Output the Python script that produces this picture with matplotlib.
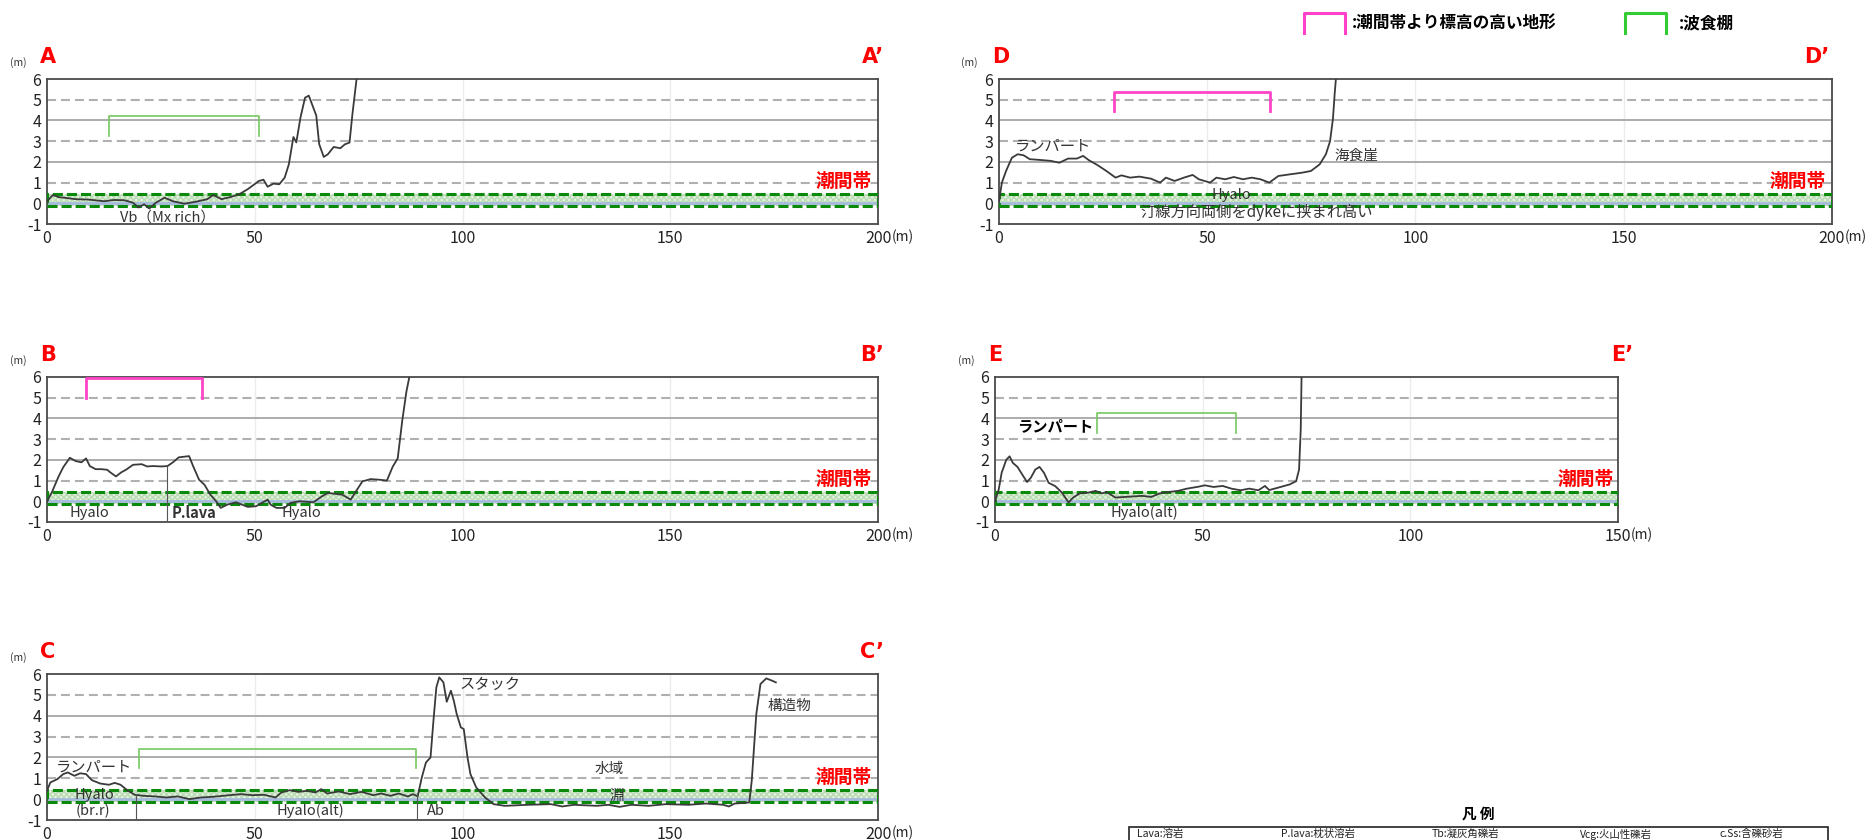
import matplotlib
matplotlib.use("Agg")
import matplotlib.pyplot as plt
from matplotlib.patches import Rectangle
from matplotlib.lines import Line2D

plt.rcParams['font.family'] = ['Noto Sans CJK JP', 'DejaVu Sans']
plt.rcParams['axes.unicode_minus'] = False

# ---- profiles: distance (m) / elevation (m)
A_x = [0, 1.4, 2.8, 5, 6.9, 10, 13.8, 16, 18.6, 20.7, 22, 23.4, 24.6, 26.2, 28.3, 30.3, 33.1, 35.9,
       38.6, 40, 42, 44.1, 46.2, 48.3, 51, 52.1, 53.1, 54.5, 55.9, 57.2, 58.2, 59.3, 60, 61, 62.1,
       63, 64.8, 65.5, 66.6, 67.6, 69, 70.6, 71.7, 72.8, 73.5, 74.5, 75.2]
A_y = [0.1, 0.4, 0.3, 0.25, 0.2, 0.18, 0.1, 0.16, 0.15, 0.03, -0.2, -0.05, -0.25, 0.03, 0.27, 0.1,
       -0.02, 0.08, 0.2, 0.4, 0.2, 0.3, 0.43, 0.68, 1.08, 1.14, 0.8, 0.95, 0.92, 1.24, 1.88, 3.2,
       2.94, 4.14, 5.1, 5.2, 4.24, 2.86, 2.24, 2.37, 2.72, 2.66, 2.85, 2.93, 4.3, 6.0, 7.5]

B_x = [0, 1.1, 2.8, 3.9, 5.5, 6.9, 8.3, 9.4, 10.3, 11.7, 13.1, 14.5, 15.2, 16.6, 17.9, 19, 20.7,
       22.8, 24.1, 25.5, 27.6, 29, 30.3, 31.7, 34.2, 35.2, 36.6, 37.9, 39.3, 40.7, 41.8, 43.4, 45.5,
       46.9, 48.3, 50.3, 51.7, 53.1, 53.8, 55.2, 57.2, 58.6, 60.7, 64.1, 66.2, 67.6, 69.7, 71,
       73.1, 74.2, 75.9, 77.9, 80, 81.8, 83.2, 84.4, 85.5, 86.5, 87.2, 88]
B_y = [0, 0.4, 1.2, 1.64, 2.1, 1.94, 1.88, 2.07, 1.7, 1.55, 1.55, 1.52, 1.4, 1.2, 1.4, 1.52, 1.76,
       1.79, 1.68, 1.7, 1.68, 1.7, 1.88, 2.12, 2.18, 1.68, 1.04, 0.8, 0.32, 0, -0.32, -0.16, -0.05,
       -0.16, -0.27, -0.24, -0.08, 0.08, -0.16, -0.32, -0.32, -0.08, 0, -0.05, 0.24, 0.4, 0.35,
       0.32, 0.08, 0.43, 0.96, 1.07, 1.04, 1.0, 1.67, 2.07, 3.9, 5.3, 6.0, 7.5]

C_x = [0, 0.8, 2.5, 3.9, 5, 6.6, 8, 9.4, 10.8, 12.8, 14.9, 16.3, 17.7, 19.3, 21.1, 23.2, 26, 28.7,
       31.5, 34.3, 37, 39.8, 43.9, 46.7, 49.4, 52.2, 55, 56.4, 58.4, 60.5, 62.6, 64.6, 66, 67.4,
       70.2, 72.9, 75.7, 78.5, 80.5, 82.6, 84.7, 86.8, 88.1, 89.2, 90.2, 91.2, 92.3, 93, 93.7,
       94.4, 95.4, 96.2, 97.2, 97.9, 98.6, 99.6, 100.3, 101.2, 101.9, 103.3, 105.4, 107.5, 110.2,
       115.7, 121.3, 124, 126.8, 132.3, 135.1, 137.8, 140.6, 144.8, 148.9, 154.4, 158.6, 162.7,
       164.1, 165.5, 169, 169.6, 170.7, 171.7, 173.1, 174.5, 175.4]
C_y = [0.4, 0.8, 0.96, 1.2, 1.28, 1.12, 1.24, 1.2, 0.91, 0.75, 0.69, 0.78, 0.69, 0.43, 0.21, 0.16,
       0.13, 0.08, 0.13, 0, 0.08, 0.11, 0.19, 0.24, 0.19, 0.21, 0.08, 0.32, 0.43, 0.35, 0.4, 0.32,
       0.48, 0.27, 0.37, 0.24, 0.35, 0.19, 0.27, 0.16, 0.27, 0.13, 0.24, 0.13, 1.04, 1.76, 2.0,
       3.76, 5.36, 5.84, 5.6, 4.67, 5.2, 4.72, 4.08, 3.44, 3.36, 2.0, 1.2, 0.56, 0.08, -0.24,
       -0.32, -0.27, -0.24, -0.35, -0.27, -0.32, -0.27, -0.37, -0.27, -0.32, -0.24, -0.27, -0.21,
       -0.27, -0.35, -0.21, -0.16, 0.88, 4.08, 5.52, 5.79, 5.68, 5.6]

D_x = [0, 0.7, 1.7, 3.1, 4.5, 5.9, 7.4, 9.5, 12.4, 14.5, 16.6, 18.7, 20.2, 21.6, 23.7, 25.8, 28,
       29.4, 31.5, 33.7, 36.5, 38.7, 40.1, 42.2, 44.4, 46.5, 48, 50.7, 52.2, 54.3, 56.4, 58.6,
       60.7, 62.8, 64.9, 67.1, 69.9, 72.8, 74.9, 77, 78.5, 79.5, 80.2, 80.6, 80.9, 81.2]
D_y = [0.1, 1.0, 1.56, 2.2, 2.37, 2.32, 2.13, 2.1, 2.05, 1.96, 2.16, 2.16, 2.29, 2.08, 1.84, 1.56,
       1.24, 1.35, 1.24, 1.29, 1.19, 1.0, 1.24, 1.08, 1.24, 1.37, 1.16, 1.0, 1.24, 1.16, 1.27,
       1.16, 1.24, 1.16, 1.0, 1.32, 1.4, 1.48, 1.56, 1.88, 2.37, 3.0, 4.1, 5.27, 6.0, 7.5]

E_x = [0, 0.9, 1.6, 2.7, 3.5, 4.3, 5.4, 6.4, 7.7, 8.6, 9.7, 10.7, 11.8, 12.9, 14.5, 16.1, 17.7,
       18.8, 20.4, 22.5, 24.2, 25.8, 26.8, 29, 32.2, 35.4, 37.6, 39.7, 41.9, 44, 46.2, 48.9, 50.5,
       52.6, 54.8, 56.9, 59.1, 61.2, 63.4, 65, 66, 68.2, 70.9, 72.5, 73.2, 73.6, 73.8, 74]
E_y = [0, 0.58, 1.38, 2.0, 2.17, 1.85, 1.66, 1.34, 0.93, 1.13, 1.53, 1.66, 1.37, 0.89, 0.73, 0.42,
       -0.06, 0.18, 0.38, 0.42, 0.5, 0.38, 0.45, 0.18, 0.22, 0.26, 0.21, 0.38, 0.45, 0.5, 0.61,
       0.7, 0.77, 0.69, 0.74, 0.61, 0.53, 0.61, 0.53, 0.74, 0.54, 0.66, 0.81, 0.97, 1.53, 3.45,
       6.0, 7.5]

# tidal zone (m)
TIDE_LOW, TIDE_HIGH = -0.15, 0.45

# brackets: (x start, x end, top, bottom)
A_shelf = (15, 51, 4.2, 3.25)
B_high = (9.4, 37.2, 5.95, 5.0)
C_shelf = (22.1, 88.8, 2.4, 1.5)
D_high = (27.7, 65, 5.38, 4.46)
E_shelf = (24.5, 58, 4.25, 3.29)

GREEN_BR = '#74c862'
MAGENTA_BR = '#ff44c8'

fig = plt.figure(figsize=(18.76, 8.4), dpi=100)
fig.patch.set_facecolor('white')


def panel(rect, x, y, xmax, name, right_off):
    ax = fig.add_axes(rect)
    ax.set_xlim(0, xmax)
    ax.set_ylim(-1, 6)
    for lv in (2, 4):
        ax.axhline(lv, color='#a6a6a6', lw=1.3, zorder=1)
    for lv in (1, 3, 5):
        ax.axhline(lv, color='#b0b0b0', lw=1.5, ls=(0, (4.3, 2.4)), zorder=1)
    for xv in range(50, xmax, 50):
        ax.axvline(xv, color='#ececec', lw=1, zorder=0.5)
    ax.add_patch(Rectangle((0, TIDE_LOW), xmax, TIDE_HIGH - TIDE_LOW, facecolor='#e3f1df',
                           edgecolor='#b9dab2', hatch='xxxxxx', lw=0, zorder=2))
    ax.axhline(0, color='#a6badd', lw=2, zorder=2.5)
    ax.add_patch(Rectangle((0, TIDE_LOW), xmax, TIDE_HIGH - TIDE_LOW, fill=False,
                           edgecolor='#0a8a0a', lw=2.2, ls=(0, (3.3, 1.3)), zorder=3))
    ax.plot(x, y, color='#3a3a3a', lw=1.3, zorder=4)

    for s in ax.spines.values():
        s.set_color('#4a4a4a')
        s.set_linewidth(1.3)
    ticks = list(range(0, xmax + 1, 50))
    ax.set_xticks(ticks)
    ax.set_xticklabels([str(t) for t in ticks])
    ax.set_yticks(range(-1, 7))
    ax.tick_params(length=0, labelsize=11.5, colors='#222222', pad=4)
    ax.annotate('(m)', xy=(1, 0), xycoords='axes fraction', xytext=(9.5, -4),
                textcoords='offset points', ha='left', va='top', fontsize=10, color='#222222')

    ax.text(xmax * 0.993, 1.05, '潮間帯', color='#ff0000', fontsize=13.5,
            fontweight='bold', ha='right', va='center', zorder=5)
    ax.annotate(name, xy=(0, 1), xycoords='axes fraction', xytext=(-5, 8.6),
                textcoords='offset points', ha='left', va='bottom', color='#ff0000',
                fontsize=15, fontweight='bold', family='DejaVu Sans')
    ax.annotate(name + '’', xy=(1, 1), xycoords='axes fraction', xytext=(right_off, 8.6),
                textcoords='offset points', ha='right', va='bottom', color='#ff0000',
                fontsize=15, fontweight='bold', family='DejaVu Sans')
    ax.annotate('(m)', xy=(0, 1), xycoords='axes fraction', xytext=(-21, 12),
                textcoords='offset points', ha='center', va='center', fontsize=7.5,
                color='#333333')
    return ax


def bracket(ax, br, color, lw):
    x0, x1, top, bot = br
    ax.plot([x0, x0, x1, x1], [bot, top, top, bot], color=color, lw=lw, zorder=4,
            clip_on=False)


def note(ax, x, y, s, size=10.5, weight='normal', ha='center', color='#333333'):
    ax.text(x, y, s, fontsize=size, fontweight=weight, ha=ha, va='center', color=color, zorder=5)


# A
axA = panel([0.02505, 0.7333, 0.4430, 0.1726], A_x, A_y, 200, 'A', 4.5)
bracket(axA, A_shelf, GREEN_BR, 1.2)
note(axA, 29, -0.68, 'Vb（Mx rich）')

# D
axD = panel([0.5325, 0.7333, 0.4440, 0.1726], D_x, D_y, 200, 'D', -1.5)
bracket(axD, D_high, MAGENTA_BR, 2)
note(axD, 3.8, 2.77, 'ランパート', size=11, ha='left')
note(axD, 80.6, 2.29, '海食崖', ha='left')
note(axD, 55.7, 0.39, 'Hyalo')
note(axD, 61.8, -0.45, '汀線方向両側をdykeに挟まれ高い', size=11)

# B
axB = panel([0.02505, 0.3786, 0.4430, 0.1726], B_x, B_y, 200, 'B', 4.5)
bracket(axB, B_high, MAGENTA_BR, 2)
axB.plot([29, 29], [-1, 1.7], color='#555555', lw=0.8, zorder=4)
note(axB, 10.3, -0.56, 'Hyalo')
note(axB, 35.4, -0.56, 'P.lava', weight='bold')
note(axB, 61.2, -0.56, 'Hyalo')

# E
axE = panel([0.5304, 0.3786, 0.3321, 0.1726], E_x, E_y, 150, 'E', 11)
bracket(axE, E_shelf, GREEN_BR, 1.2)
note(axE, 23.6, 3.61, 'ランパート', size=11, weight='bold', ha='right', color='black')
note(axE, 36, -0.54, 'Hyalo(alt)')

# C
axC = panel([0.02505, 0.0238, 0.4430, 0.1738], C_x, C_y, 200, 'C', 4.5)
bracket(axC, C_shelf, GREEN_BR, 1.2)
axC.plot([21.5, 21.5], [-1, 0.25], color='#555555', lw=0.8, zorder=4)
axC.plot([89.0, 89.0], [-1, 0.2], color='#555555', lw=0.8, zorder=4)
note(axC, 2.2, 1.52, 'ランパート', size=11, ha='left')
note(axC, 11.5, 0.2, 'Hyalo')
note(axC, 11.1, -0.56, '(br.r)')
note(axC, 63.3, -0.56, 'Hyalo(alt)')
note(axC, 93.6, -0.56, 'Ab')
note(axC, 99.2, 5.52, 'スタック', size=11, ha='left')
note(axC, 178.6, 4.48, '構造物')
note(axC, 135.4, 1.44, '水域')
note(axC, 137, 0.16, '淵')

# top legend
W, H = 1876.0, 840.0
for (x0, x1), col, label, tx in [((1304, 1345), '#ff40c8', ':潮間帯より標高の高い地形', 1352),
                                  ((1625, 1666), '#33cc33', ':波食棚', 1679)]:
    fig.add_artist(Line2D([x0 / W, x0 / W, x1 / W, x1 / W],
                          [1 - 33 / H, 1 - 13 / H, 1 - 13 / H, 1 - 33 / H],
                          color=col, lw=2.2))
    fig.text(tx / W, 1 - 23 / H, label, fontsize=12, fontweight='bold', ha='left', va='center')

# bottom legend box (runs off the bottom edge)
fig.text(1478 / W, 1 - 814 / H, '凡 例', fontsize=10.5, fontweight='bold', ha='center',
         va='center')
fig.add_artist(Rectangle((1129 / W, -0.05), (1828 - 1129) / W, 0.05 + 1 - 827 / H,
                         fill=False, edgecolor='#222222', lw=1.2, transform=fig.transFigure))
LEGEND_ITEMS = ['Lava:溶岩', 'P.lava:枕状溶岩', 'Tb:凝灰角礫岩', 'Vcg:火山性礫岩', 'c.Ss:含礫砂岩']
LEGEND_X = [1137, 1281, 1432, 1580, 1719]
for s, xp in zip(LEGEND_ITEMS, LEGEND_X):
    fig.text(xp / W, 1 - 834 / H, s, fontsize=7.5, ha='left', va='center', color='#222222')

fig.savefig('out.png', dpi=100)
